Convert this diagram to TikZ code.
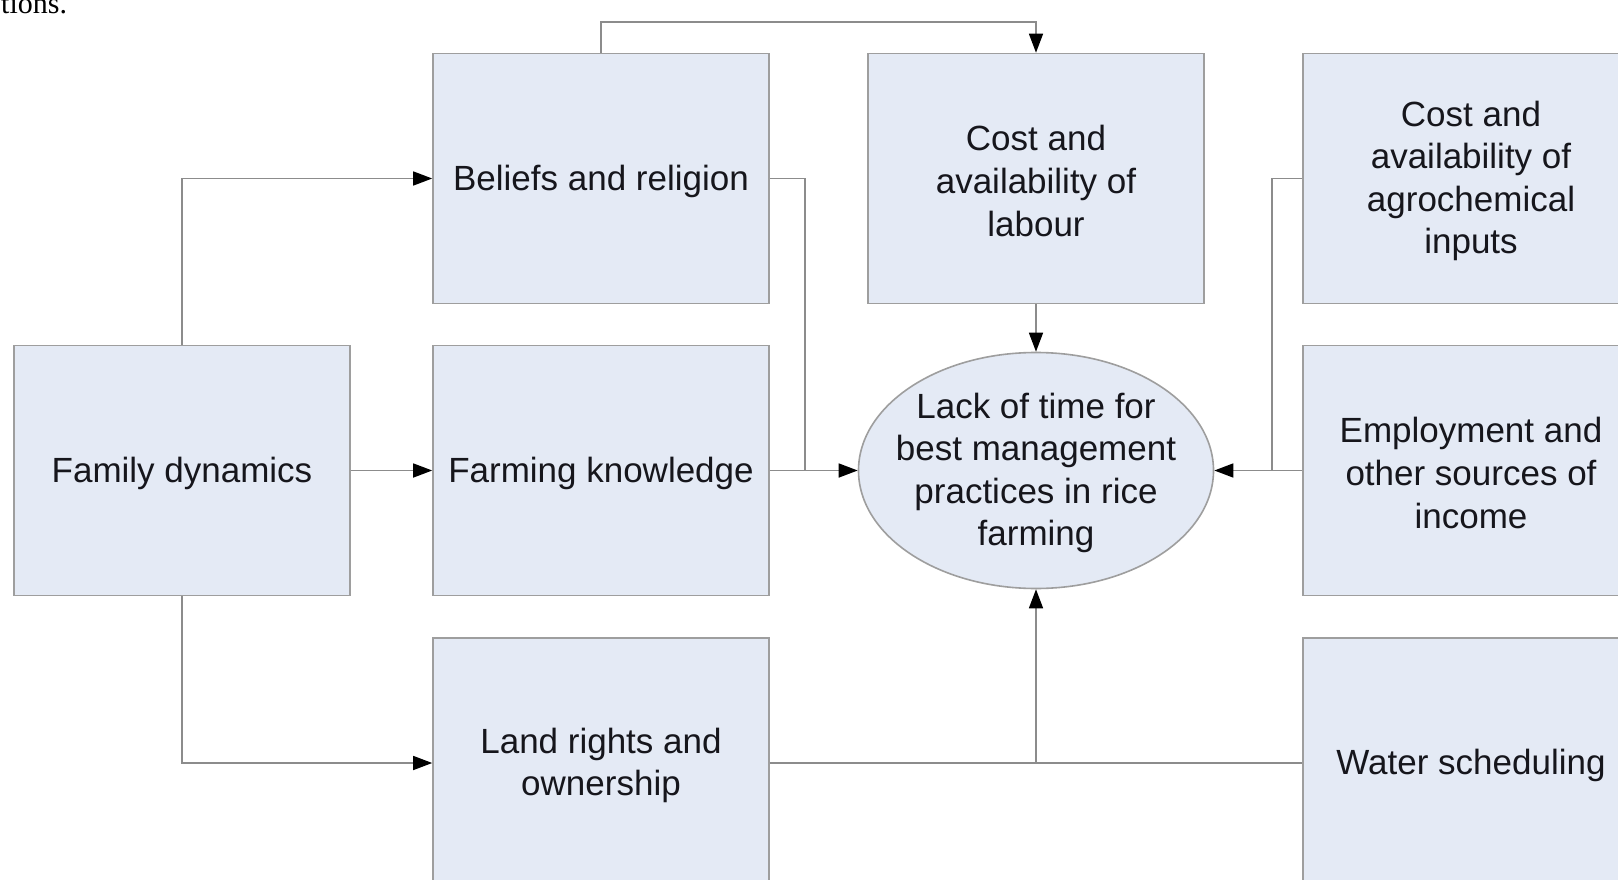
\documentclass[tikz,border=0pt]{standalone}
\usepackage{fontspec}
\setmainfont{Liberation Sans}
\newfontfamily\capserif{Liberation Serif}
\usetikzlibrary{arrows.meta,shapes.geometric}
\definecolor{boxfill}{RGB}{228,234,245}
\definecolor{boxline}{RGB}{158,158,158}
\definecolor{connline}{RGB}{140,140,140}
\definecolor{txt}{RGB}{22,22,28}
\begin{document}
\begin{tikzpicture}[x=1pt,y=-1pt,
  lbl/.style={align=center,text=txt,inner sep=0pt,yshift=-2.5pt,font=\fontsize{35}{42.6}\selectfont},
  box/.style={draw=boxline,fill=boxfill,line width=1.6pt,minimum width=336pt,minimum height=250pt,inner sep=0pt},
  oval/.style={ellipse,draw=boxline,fill=boxfill,line width=1.6pt,minimum width=355pt,minimum height=236pt,inner sep=0pt},
  conn/.style={draw=connline,line width=1.5pt},
  arr/.style={conn,-{Triangle[length=19pt,width=14pt,color=black]}}
]
\clip (0,0) rectangle (1618,880);
\fill[white] (0,0) rectangle (1618,880);
\node[anchor=base west,text=black,font=\capserif\fontsize{30}{32}\selectfont,inner sep=0pt] (cap) at (1,14) {tions.};

\node[box,label={[lbl]center:{Family dynamics}}] (family)  at (182,470.5) {};
\node[box,label={[lbl]center:{Beliefs and religion}}] (beliefs) at (601,178.5) {};
\node[box,label={[lbl]center:{Farming knowledge}}] (farming) at (601,470.5) {};
\node[box,label={[lbl]center:{Land rights and\\ownership}}] (land) at (601,763) {};
\node[box,label={[lbl]center:{Cost and\\availability of\\labour}}] (labour) at (1036,178.5) {};
\node[box,label={[lbl]center:{Cost and\\availability of\\agrochemical\\inputs}}] (agro) at (1471,178.5) {};
\node[box,label={[lbl]center:{Employment and\\other sources of\\income}}] (employ) at (1471,470.5) {};
\node[box,label={[lbl]center:{Water scheduling}}] (water) at (1471,763) {};
\node[oval,label={[lbl]center:{Lack of time for\\best management\\practices in rice\\farming}}] (lack) at (1036,470.5) {};

\coordinate (jl) at (805,470.5);
\coordinate (jr) at (1272,470.5);
\coordinate (jb) at (1036,763);
\coordinate (top) at (601,22);

\draw[arr] (beliefs.north) -- (top) -| (labour.north);
\draw[arr] (family.north) |- (beliefs.west);
\draw[arr] (family.east) -- (farming.west);
\draw[arr] (family.south) |- (land.west);
\draw[conn] (beliefs.east) -| (jl);
\draw[arr] (farming.east) -- (lack.west);
\draw[arr] (labour.south) -- (lack.north);
\draw[conn] (agro.west) -| (jr);
\draw[arr] (employ.west) -- (lack.east);
\draw[conn] (land.east) -- (water.west);
\draw[arr] (jb) -- (lack.south);
\end{tikzpicture}
\end{document}
